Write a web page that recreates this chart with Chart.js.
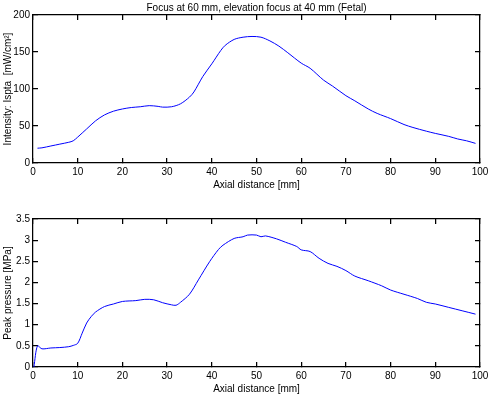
<!DOCTYPE html>
<html>
<head>
<meta charset="utf-8">
<script src="https://cdn.jsdelivr.net/npm/chart.js@4"></script>
<style>
    html, body { margin: 0; padding: 0; background: #fff; overflow: hidden; width: 488px; height: 394px; }
    canvas { position: absolute; left: 0; }
    #chartIntensidade { top: 0; }
    #chartPressao { top: 204px; }
</style>
</head>
<body>
<canvas id="chartIntensidade" width="488" height="210"></canvas>
<canvas id="chartPressao" width="488" height="210"></canvas>
<script>
// Dados (distância axial em mm)
const distIntensidade = [1, 2, 4, 6, 8, 9, 10, 12, 14, 16, 18, 20, 22, 24, 26, 28, 29, 31, 33, 35, 36, 38, 40, 42, 43, 45, 47, 49, 51, 53, 55, 57, 60, 62, 65, 67, 70, 72, 75, 77, 80, 83, 85, 88, 90, 93, 95, 97, 99];
const intensidade = [20, 20.5, 23, 25.5, 28, 30, 35, 46, 57, 65, 70, 73, 75, 76, 77.5, 76.5, 75.5, 76, 80, 89, 96, 117, 134, 152, 159, 167, 170, 171, 170, 165, 158, 149, 135, 128, 112, 104, 91, 84, 73, 67, 60, 52, 48, 43, 40, 36, 32.5, 30, 26.5];

const distPressao = [0.2, 1, 2, 4, 6, 8, 9, 10, 11, 12, 13, 14, 16, 18, 20, 23, 25, 27, 29, 31, 32, 33, 35, 37, 39.5, 41.5, 42.5, 45, 47, 48, 50, 51, 52, 54.5, 56.5, 59, 60, 62, 64, 66, 68, 70, 72, 75, 78, 80, 83, 86, 88, 90, 93, 96, 99];
const pressao = [0, 0.5, 0.43, 0.45, 0.46, 0.48, 0.51, 0.56, 0.8, 1.04, 1.19, 1.3, 1.43, 1.49, 1.55, 1.57, 1.6, 1.59, 1.52, 1.47, 1.46, 1.53, 1.72, 2.06, 2.49, 2.78, 2.88, 3.04, 3.08, 3.12, 3.12, 3.08, 3.1, 3.03, 2.95, 2.85, 2.77, 2.73, 2.57, 2.45, 2.38, 2.28, 2.15, 2.04, 1.92, 1.82, 1.72, 1.62, 1.53, 1.49, 1.41, 1.33, 1.25];

const tituloGrafico = 'Focus at 60 mm, elevation focus at 40 mm (Fetal)';
const tituloX = 'Axial distance [mm]';
const tituloYIntensidade = 'Intensity: Ispta  [mW/cm\u00B2]';
const tituloYPressao = 'Peak pressure [MPa]';

Chart.defaults.color = '#000';
Chart.defaults.font.family = "'Liberation Sans', Arial, sans-serif";
Chart.defaults.font.size = 10;

// grade só com ticks curtos para dentro (estilo MATLAB) + caixa completa
const gradeTicks = { display: true, drawOnChartArea: false, drawTicks: true, tickLength: -5, color: '#000', lineWidth: 1.25 };
const borda = { display: true, color: '#000', width: 1.25 };

function montarGrafico(id, xs, ys, yMax, yStep, tituloY, comTitulo) {
    const pontos = xs.map((v, i) => ({ x: v, y: ys[i] }));
    const fmt = v => String(Math.round(v * 10) / 10);
    return new Chart(document.getElementById(id), {
        type: 'line',
        data: {
            datasets: [{
                data: pontos,
                borderColor: '#0000ff',
                borderWidth: 1,
                pointRadius: 0,
                tension: 0.3,
                fill: false,
                xAxisID: 'x',
                yAxisID: 'y'
            }]
        },
        options: {
            responsive: false,
            animation: false,
            layout: { padding: { top: comTitulo ? 0 : 15, right: 8, left: 0, bottom: 0 } },
            plugins: {
                legend: { display: false },
                tooltip: { enabled: false },
                title: {
                    display: comTitulo,
                    text: tituloGrafico,
                    fullSize: false,
                    color: '#000',
                    font: { size: 10, weight: 'normal', lineHeight: 1.2 },
                    padding: { top: 2, bottom: 1 }
                }
            },
            scales: {
                x: {
                    type: 'linear', position: 'bottom', min: 0, max: 100,
                    grid: gradeTicks, border: borda,
                    ticks: { stepSize: 10, padding: 8, maxRotation: 0, autoSkip: false },
                    title: { display: true, text: tituloX, padding: { top: 0, bottom: 19 } },
                    afterFit(s) { s.height = 47; s.paddingLeft = 0; s.paddingRight = 0; }
                },
                x2: {
                    type: 'linear', position: 'top', min: 0, max: 100,
                    grid: gradeTicks, border: borda,
                    ticks: { stepSize: 10, display: false, autoSkip: false },
                    afterFit(s) { s.height = 0; s.paddingLeft = 0; s.paddingRight = 0; }
                },
                y: {
                    type: 'linear', position: 'left', min: 0, max: yMax,
                    grid: gradeTicks, border: borda,
                    ticks: { stepSize: yStep, padding: 8, callback: fmt },
                    title: { display: true, text: tituloY, padding: { top: 2, bottom: 0 } },
                    afterFit(s) { s.width = 33; s.paddingTop = 0; s.paddingBottom = 0; }
                },
                y2: {
                    type: 'linear', position: 'right', min: 0, max: yMax,
                    grid: gradeTicks, border: borda,
                    ticks: { stepSize: yStep, display: false },
                    afterFit(s) { s.width = 0; s.paddingTop = 0; s.paddingBottom = 0; }
                }
            }
        }
    });
}

montarGrafico('chartIntensidade', distIntensidade, intensidade, 200, 50, tituloYIntensidade, true);
montarGrafico('chartPressao', distPressao, pressao, 3.5, 0.5, tituloYPressao, false);
</script>
</body>
</html>
